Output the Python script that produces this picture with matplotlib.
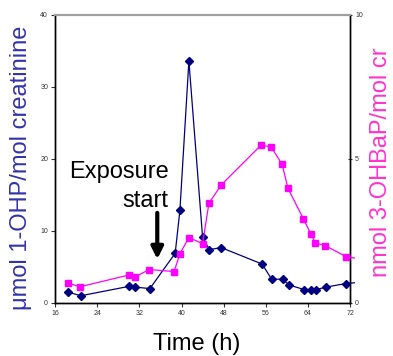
import matplotlib.pyplot as plt

plt.rcParams['font.family'] = ['Liberation Sans', 'DejaVu Sans']

# 1-OHP (left axis), time in hours
ohp_time = [18.5, 20.9, 30.0, 31.2, 34.0, 38.8, 39.7, 41.4, 44.0, 45.3, 47.5,
            55.3, 57.1, 59.2, 60.4, 63.3, 64.5, 65.5, 67.4, 71.2, 72.8]
ohp_value = [1.5, 1.0, 2.3, 2.2, 2.0, 6.9, 12.9, 33.6, 9.1, 7.4, 7.7,
             5.4, 3.3, 3.3, 2.5, 1.85, 1.75, 1.85, 2.2, 2.7, 2.8]

# 3-OHBaP (right axis)
bap_time = [18.5, 20.7, 30.0, 31.1, 33.9, 38.6, 39.7, 41.4, 44.0, 45.2, 47.5,
            55.1, 57.0, 59.1, 60.2, 63.1, 64.5, 65.4, 67.3, 71.2, 72.8]
bap_value = [0.69, 0.56, 0.97, 0.90, 1.16, 1.09, 1.71, 2.27, 2.06, 3.46, 4.09,
             5.48, 5.42, 4.81, 3.98, 2.93, 2.41, 2.09, 1.99, 1.61, 1.56]

x_ticks = [16, 24, 32, 40, 48, 56, 64, 72]
left_ticks = [0, 10, 20, 30, 40]
right_ticks = [0, 5, 10]

fig = plt.figure(figsize=(3.93, 3.56), dpi=100)
ax = fig.add_axes([0.140, 0.149, 0.751, 0.809])
ax2 = ax.twinx()

# last point sits just past the axis edge: line only, no marker
ax.plot(ohp_time, ohp_value, color='#000080', lw=0.9, marker='D', ms=3.6,
        markevery=list(range(len(ohp_time) - 1)), clip_on=False, zorder=3)
ax2.plot(bap_time, bap_value, color='#FF00FF', lw=0.9, marker='s', ms=4.3,
         markevery=list(range(len(bap_time) - 1)), clip_on=False, zorder=3)

ax.set_xlim(16, 72)
ax.set_ylim(0, 40)
ax2.set_ylim(0, 10)
ax.set_xticks(x_ticks)
ax.set_yticks(left_ticks)
ax2.set_yticks(right_ticks)

ax.tick_params(axis='both', labelsize=5, length=3, width=0.8, pad=2, colors='#333333')
ax2.tick_params(axis='y', labelsize=5, length=3, width=0.8, pad=2,
                direction='inout', colors='#333333')

for a in (ax, ax2):
    for side in ('left', 'right', 'bottom'):
        a.spines[side].set_color('black')
        a.spines[side].set_linewidth(1.0)
    a.spines['top'].set_color('#A0A0A0')
    a.spines['top'].set_linewidth(1.5)

ax.set_ylabel('μmol 1-OHP/mol creatinine', fontsize=17, color='#3333AA')
ax.yaxis.set_label_coords(-0.078, 0.47)
ax2.set_ylabel('nmol 3-OHBaP/mol cr', fontsize=17, color='#FF33CC')
ax2.yaxis.set_label_coords(1.068, 0.49)
ax.set_xlabel('Time (h)', fontsize=17)
ax.xaxis.set_label_coords(0.48, -0.105)

ax.text(37.6, 17.4, 'Exposure', fontsize=17, ha='right', va='baseline')
ax.text(37.6, 13.3, 'start', fontsize=17, ha='right', va='baseline')
ax.annotate('', xy=(35.4, 5.7), xytext=(35.4, 12.9),
            arrowprops=dict(arrowstyle='-|>,head_width=0.35,head_length=0.7',
                            lw=3, color='black'))

fig.savefig('out.png', dpi=100)
